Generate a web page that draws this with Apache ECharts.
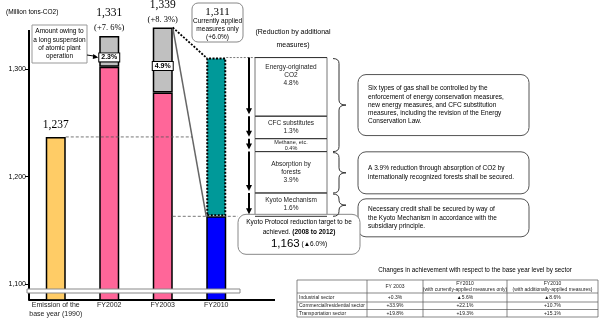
<!DOCTYPE html>
<html><head><meta charset="utf-8">
<script src="https://cdn.jsdelivr.net/npm/echarts@6/dist/echarts.min.js"></script>
<style>html,body{margin:0;padding:0;background:#fff}#c{width:600px;height:322px}</style>
</head><body><div id="c"></div>
<script>
// ---------------- data ----------------
const categories = ['Emission of the\nbase year (1990)', 'FY2002', 'FY2003', 'FY2010'];
const lowerValues = [1237, 1302.5, 1278.4, 1163];
const atomicValues = [null, 28.5, 60.6, null];
const atomicLabels = ['', '2.3%', '4.9%', ''];
const additionalValues = [null, null, null, 148];
const totalValues = [1237, 1331, 1339, 1311];
const changeLabels = ['', '(+7. 6%)', '(+8. 3%)', '(+6.0%)'];
const yTickValues = [1100, 1200, 1300];
const reductionItems = ['Energy-originated\nCO2', 'CFC substitutes', 'Methane, etc.', 'Absorption by\nforests', 'Kyoto Mechanism'];
const reductionPercents = ['4.8%', '1.3%', '0.4%', '3.9%', '1.6%'];
const targetChange = '▲6.0%';
const calloutTexts = [
  'Six types of gas shall be controlled by the\nenforcement of energy conservation measures,\nnew energy measures, and CFC substitution\nmeasures, including the revision of the Energy\nConservation Law.',
  'A 3.9% reduction through absorption of CO2 by\ninternationally recognized forests shall be secured.',
  'Necessary credit shall be secured by way of\nthe Kyoto Mechanism in accordance with the\nsubsidiary principle.'
];
const tableTitle = 'Changes in achievement with respect to the base year level by sector';
const tableHeaders = ['', 'FY 2003', 'FY2010\n(with currently-applied measures only)', 'FY2010\n(with additionally-applied measures)'];
const sectors = ['Industrial sector', 'Commercial/residential sector', 'Transportation sector'];
const fy2003Change = ['+0.3%', '+33.9%', '+19.8%'];
const fy2010Current = ['▲5.6%', '+22.1%', '+19.3%'];
const fy2010Additional = ['▲8.6%', '+10.7%', '+15.1%'];

// ---------------- style ----------------
const SANS = '"Liberation Sans", Arial, sans-serif';
const SERIF = '"Liberation Serif", "Times New Roman", serif';
const lowerColors = ['#FFCC66', '#FF6699', '#FF6699', '#0000FF'];
const fmt = v => v.toLocaleString('en-US');

const chart = echarts.init(document.getElementById('c'), null, {renderer: 'canvas'});
chart.setOption({
  animation: false,
  backgroundColor: '#fff',
  grid: {left: 29, right: 357, top: 20, bottom: 22},
  xAxis: {
    type: 'category', data: categories,
    axisLine: {lineStyle: {color: '#000', width: 2}},
    axisTick: {show: false},
    axisLabel: {fontSize: 7, fontFamily: SANS, color: '#222', lineHeight: 9, margin: 1, interval: 0}
  },
  yAxis: {
    type: 'value', min: 1085, max: 1346,
    splitLine: {show: false},
    axisLine: {show: false},
    axisTick: {show: true, length: 4, customValues: yTickValues, lineStyle: {color: '#000'}},
    axisLabel: {customValues: yTickValues, formatter: v => fmt(v), fontSize: 7, fontFamily: SANS, color: '#000', margin: 3}
  },
  series: [
    {type: 'bar', stack: 's', barWidth: 20,
     data: lowerValues.map((v, i) => ({value: v, itemStyle: {color: lowerColors[i]}})),
     itemStyle: {borderColor: '#000', borderWidth: 1.5}},
    {type: 'bar', stack: 's', barWidth: 20,
     data: atomicValues.map(v => v == null ? '-' : v),
     itemStyle: {color: '#C0C0C0', borderColor: '#000', borderWidth: 1.5},
     label: {show: true, position: 'inside', offset: [0, 6], formatter: p => atomicLabels[p.dataIndex],
             backgroundColor: '#fff', borderColor: '#000', borderWidth: 1, padding: [1, 2, 0, 2],
             fontSize: 7, fontWeight: 'bold', fontFamily: SANS, color: '#000'}},
    {type: 'bar', stack: 's', barWidth: 20,
     data: additionalValues.map(v => v == null ? '-' : v),
     itemStyle: {color: '#009999', borderColor: '#000', borderWidth: 2, borderType: [2, 1.5]}}
  ]
});

// ---------------- annotations ----------------
const P = (i, v) => chart.convertToPixel({gridIndex: 0}, [i, v]);
const g = [];
const Z = 100;
function T(x, y, text, size, extra) {
  g.push({type: 'text', x, y, z: Z, style: Object.assign({text, fontSize: size, fontFamily: SANS, fill: '#000',
    align: 'center', verticalAlign: 'middle'}, extra || {})});
}
function L(x1, y1, x2, y2, stroke, w, dash) {
  g.push({type: 'line', z: Z, shape: {x1, y1, x2, y2}, style: {stroke, lineWidth: w, lineDash: dash || null}});
}
function Q(x1, y1, cx, cy, x2, y2, stroke) {
  g.push({type: 'bezierCurve', z: Z, shape: {x1, y1, cpx1: cx, cpy1: cy, x2, y2},
    style: {stroke, fill: null, lineWidth: 1}});
}
function R(x, y, w, h, r, stroke, fill, lw) {
  g.push({type: 'rect', z: Z - 1, shape: {x, y, width: w, height: h, r: r || 0},
    style: {stroke, fill: fill || '#fff', lineWidth: lw || 1}});
}
function tri(pts, fill) { g.push({type: 'polygon', z: Z, shape: {points: pts}, style: {fill}}); }

const hw = 10;
const tops = totalValues.map((v, i) => P(i, v));
const baseTop = tops[0];
const blueTop = P(3, lowerValues[3]);
const yBottom = P(0, 1085)[1];

// y axis line and x axis extension
L(29, 30, 29, yBottom, '#000', 2);
L(243, yBottom, 275, yBottom, '#000', 2);
// broken-axis strip
g.push({type: 'rect', z: Z + 5, shape: {x: 27, y: yBottom - 11, width: 213, height: 4},
  style: {fill: '#fff', stroke: '#888', lineWidth: 1}});

T(6, 12, '(Million tons-CO2)', 6.5, {align: 'left'});

// totals
T(baseTop[0], baseTop[1] - 12, fmt(totalValues[0]), 11.5, {fontFamily: SERIF});
[1, 2].forEach(i => {
  T(tops[i][0], tops[i][1] - 23, fmt(totalValues[i]), 11.5, {fontFamily: SERIF});
  T(tops[i][0], tops[i][1] - 8, changeLabels[i], 8.5, {fontFamily: SERIF});
});

// 1,311 box
R(192, 3, 51, 39, 6, '#888');
T(217.5, 12, fmt(totalValues[3]), 11, {fontFamily: SERIF});
T(217.5, 29, 'Currently applied\nmeasures only\n' + changeLabels[3], 6.5, {lineHeight: 8});

// atomic callout
R(32, 25, 55, 38, 0, '#999');
T(59.5, 44, 'Amount owing to\na long suspension\nof atomic plant\noperation', 6.5, {lineHeight: 8.4});
const lab = P(1, lowerValues[1] + atomicValues[1] / 2);
L(87, 55, lab[0] - 13, lab[1] + 5, '#000', 1);
tri([[lab[0] - 11, lab[1] + 6], [lab[0] - 16, lab[1] + 2.5], [lab[0] - 16.5, lab[1] + 7.5]], '#000');

// connecting lines
const a = [tops[2][0] + hw, tops[2][1]];
const b = [blueTop[0] - hw, blueTop[1]];
L(a[0], a[1], b[0], b[1], '#666', 1.5);
L(a[0], a[1], tops[3][0] - hw, tops[3][1], '#000', 1.8, [2, 1.5]);
const xi = a[0] + (baseTop[1] - a[1]) / (b[1] - a[1]) * (b[0] - a[0]);
L(baseTop[0] + hw, baseTop[1], xi, baseTop[1], '#555', 0.8, [3, 2]);
L(a[0], blueTop[1], 238, blueTop[1], '#555', 0.8, [3, 2]);
L(tops[3][0] + hw, tops[3][1], 255, tops[3][1], '#777', 1, [2, 1.5]);

// reduction column
T(293, 32, '(Reduction by additional', 7);
T(293, 45, 'measures)', 7);
const frac = [68, 26, 15, 48, 27];
const fsum = frac.reduce((s, v) => s + v, 0);
const yT = tops[3][1], yB = blueTop[1];
const bounds = [yT];
frac.forEach(f => bounds.push(bounds[bounds.length - 1] + f / fsum * (yB - yT)));
const ax = 249;
for (let k = 0; k < 5; k++) {
  const y0 = bounds[k], y1 = bounds[k + 1], h = y1 - y0;
  L(ax, y0, ax, y1 - 4, '#000', 2);
  tri([[ax - 3, y1 - 8], [ax + 3, y1 - 8], [ax, y1 - 2]], '#000');
  R(255, y0, 72, h, 0, '#777');
  L(255, y0, 327, y0, '#333', 1);
  const small = h < 16;
  const cy = k === 0 ? y0 + h * 0.3 : y0 + h / 2;
  T(291, cy, reductionItems[k] + '\n' + reductionPercents[k], small ? 5.5 : 6.5,
    {lineHeight: small ? 6 : 8, fill: '#222'});
}
L(255, yB, 327, yB, '#333', 1);

// braces + callouts
function brace(yt, yb) {
  const x0 = 333, m = (yt + yb) / 2, c = '#333';
  Q(x0, yt, x0 + 6, yt, x0 + 6, yt + 5, c);
  L(x0 + 6, yt + 5, x0 + 6, m - 5, c, 1);
  Q(x0 + 6, m - 5, x0 + 6, m, x0 + 13, m, c);
  Q(x0 + 13, m, x0 + 6, m, x0 + 6, m + 5, c);
  L(x0 + 6, m + 5, x0 + 6, yb - 5, c, 1);
  Q(x0 + 6, yb - 5, x0 + 6, yb, x0, yb, c);
  return m;
}
const m1 = brace(bounds[0] + 1, bounds[3]);
const m2 = brace(bounds[3] + 1, bounds[4]);
const m3 = brace(bounds[4] + 1, bounds[5]);
const cb1 = m1 - 30.5;
const cb2 = Math.max(m2 - 21, cb1 + 61 + 8);
const cb3 = Math.max(m3 - 19, cb2 + 42 + 5);
[[cb1, 61], [cb2, 42], [cb3, 38]].forEach(([y, h], k) => {
  R(358, y, 171, h, 8, '#555');
  T(368, y + h / 2, calloutTexts[k], 6.5, {align: 'left', lineHeight: 8.3});
});

// Kyoto target box
R(238, yB - 2, 122, 40, 8, '#888');
g.push({type: 'text', x: 299, y: yB + 18, z: Z, style: {
  text: '{a|Kyoto Protocol reduction target to be}\n{a|achieved. }{b|(2008 to 2012)}\n{c|' + fmt(lowerValues[3]) + '}{a| (' + targetChange + ')}',
  align: 'center', verticalAlign: 'middle', fill: '#000',
  rich: {
    a: {fontSize: 6.5, fontFamily: SANS, lineHeight: 10},
    b: {fontSize: 6.5, fontFamily: SANS, fontWeight: 'bold', lineHeight: 10},
    c: {fontSize: 11.5, fontFamily: SANS, lineHeight: 15}
  }}});

// table
T(475, 270, tableTitle, 6.3);
const cols = [297, 367, 423, 507, 598];
const rows = [280, 293, 302, 309.5, 317];
rows.forEach(y => L(cols[0], y, cols[4], y, '#555', 0.7));
cols.forEach(x => L(x, rows[0], x, rows[4], '#555', 0.7));
for (let c = 1; c < 4; c++) {
  T((cols[c] + cols[c + 1]) / 2, (rows[0] + rows[1]) / 2, tableHeaders[c], 5, {lineHeight: 6, fill: '#222'});
}
const tcols = [fy2003Change, fy2010Current, fy2010Additional];
sectors.forEach((s, r) => {
  const cy = (rows[r + 1] + rows[r + 2]) / 2;
  T(cols[0] + 2, cy, s, 5, {align: 'left', fill: '#222'});
  tcols.forEach((arr, c) => T((cols[c + 1] + cols[c + 2]) / 2, cy, arr[r], 5, {fill: '#222'}));
});

chart.setOption({graphic: {elements: g}});
</script></body></html>
